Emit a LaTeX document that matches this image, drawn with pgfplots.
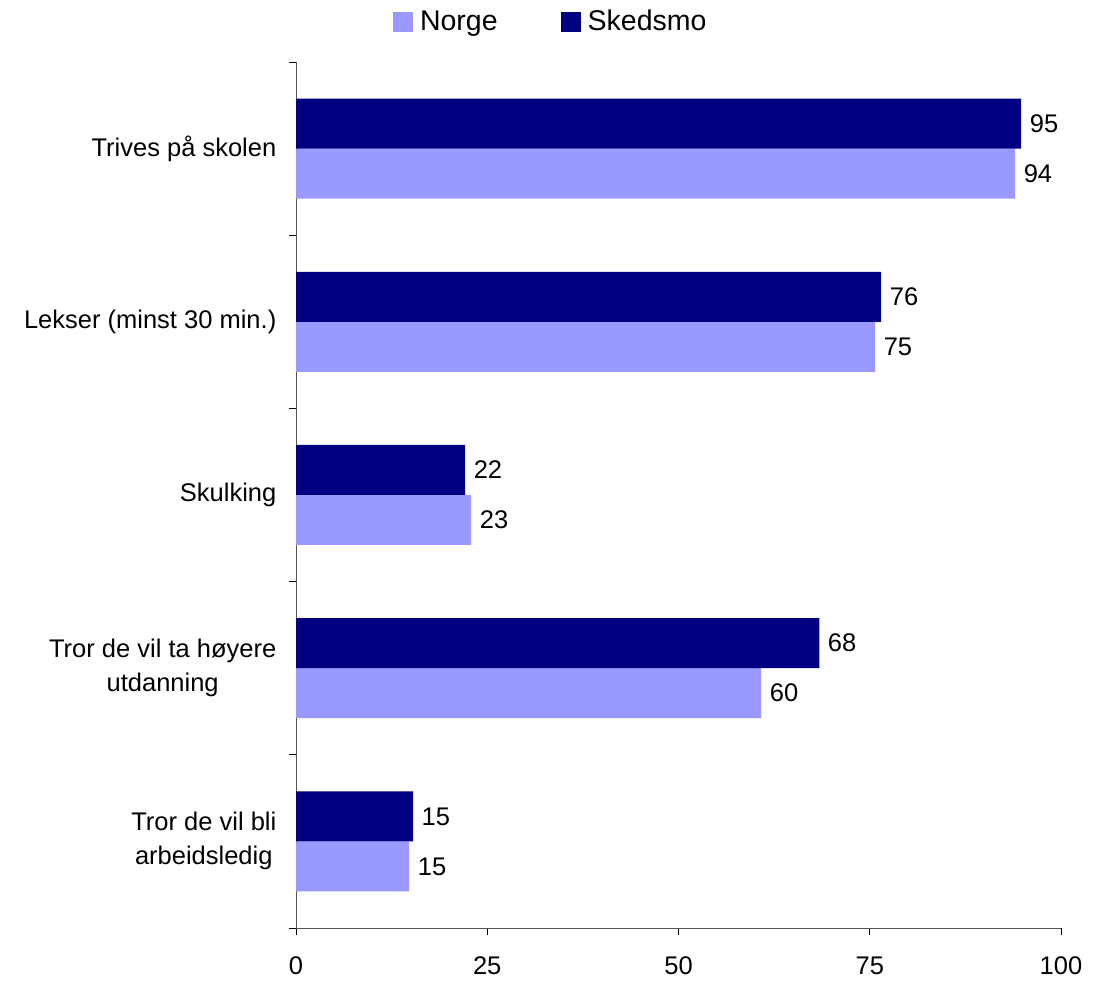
\documentclass[border=0pt]{standalone}
\usepackage{pgfplots}
\pgfplotsset{compat=1.18}
\usepackage{fontspec}
\setmainfont{Liberation Sans}
\definecolor{norge}{HTML}{9999FF}
\definecolor{sked}{HTML}{000080}
\definecolor{axisgray}{HTML}{555555}
\begin{document}
\fontsize{25.5}{34}\selectfont
\begin{tikzpicture}
\useasboundingbox (0,0) rectangle (1097pt,983pt);
\begin{axis}[
  at={(296pt,55pt)}, anchor=south west,
  scale only axis, width=765pt, height=866pt,
  xbar, bar width=50pt,
  xmin=0, xmax=100, ymin=-0.5, ymax=4.5,
  xtick={0,25,50,75,100},
  ytick={0,...,4},
  yticklabels={{Tror de vil bli\\arbeidsledig},{Tror de vil ta høyere\\utdanning},Skulking,{Lekser (minst 30 min.)},{Trives på skolen}},
  yticklabel style={align=center, xshift=-4pt, font=\fontsize{25.5}{34}\selectfont},
  xticklabel style={yshift=-13pt, font=\fontsize{25.5}{34}\selectfont},
  minor ytick={-0.5,0.5,...,4.5},
  major y tick style={draw=none},
  tick align=outside,
  major tick length=7pt, minor tick length=7pt,
  axis lines*=left,
  axis line style={-, line width=0.9pt, axisgray},
  tick style={line width=0.9pt, black},
  /pgf/number format/assume math mode=true,
  point meta=explicit symbolic,
  nodes near coords,
  every node near coord/.append style={font=\fontsize{25.5}{34}\selectfont, anchor=west, black},
  legend columns=2,
  legend style={at={(0.333,1.046)}, anchor=center, draw=none, font=\fontsize{28.5}{34}\selectfont,
    /tikz/every even column/.append style={column sep=61pt}},
  legend image code/.code={\fill[#1] (0pt,-10pt) rectangle (20pt,10pt); \path (0pt,0pt) -- (25pt,0pt);},
]
\addplot[fill=norge, draw=none, bar shift=-25pt] coordinates {
  (94.0,4) [94]
  (75.7,3) [75]
  (22.9,2) [23]
  (60.8,1) [60]
  (14.8,0) [15]
};
\addplot[fill=sked, draw=none, bar shift=25pt] coordinates {
  (94.8,4) [95]
  (76.5,3) [76]
  (22.1,2) [22]
  (68.4,1) [68]
  (15.3,0) [15]
};
\legend{Norge, Skedsmo}
\end{axis}
\end{tikzpicture}
\end{document}
